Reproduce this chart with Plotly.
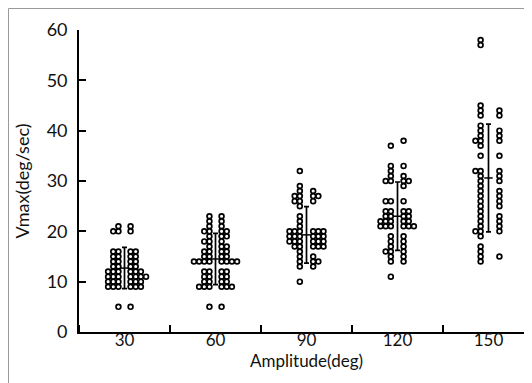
import plotly.graph_objects as go
from collections import Counter

# ---- data ----
amplitudes = [30, 60, 90, 120, 150]
tick_labels = ["30", "60", "90", "120", "150"]

left_30 = [21, 20, 20, 16, 16, 15, 15, 14, 14, 13, 13, 12, 12, 12, 11, 11, 11, 10, 10, 10, 9, 9, 9, 5]
right_30 = [21, 20, 16, 16, 15, 15, 14, 14, 13, 13, 12, 12, 12, 11, 11, 11, 11, 10, 10, 10, 9, 9, 9, 5]

left_60 = [23, 22, 21, 20, 20, 19, 18, 18, 17, 16, 16, 15, 15, 14, 14, 14, 14, 12, 12, 11, 11, 10, 10, 9, 9, 9, 5]
right_60 = [23, 22, 21, 20, 20, 19, 19, 18, 17, 17, 16, 16, 15, 15, 14, 14, 14, 14, 12, 12, 11, 11, 10, 10, 9, 9, 9, 5]

left_90 = [32, 29, 28, 27, 27, 26, 26, 25, 23, 22, 21, 20, 20, 20, 19, 19, 19, 18, 18, 18, 17, 17, 16, 15, 14, 13, 10]
right_90 = [28, 27, 27, 26, 20, 20, 20, 19, 19, 19, 18, 18, 18, 17, 17, 17, 15, 14, 14, 13]

left_120 = [37, 33, 32, 31, 30, 30, 26, 26, 24, 24, 23, 23, 22, 22, 22, 21, 21, 21, 19, 18, 17, 16, 16, 15, 14, 11]
right_120 = [38, 33, 31, 30, 30, 29, 26, 24, 24, 23, 23, 22, 22, 21, 21, 21, 19, 18, 17, 16, 15, 14]

left_150 = [58, 57, 45, 44, 43, 41, 40, 39, 38, 38, 37, 35, 32, 32, 31, 30, 29, 28, 27, 26, 25, 24, 23, 22, 21, 20, 20, 19, 17, 16, 15, 14]
right_150 = [44, 43, 40, 39, 38, 35, 32, 31, 30, 28, 27, 26, 25, 23, 22, 21, 20, 15]

means = [12.7, 14.5, 19.3, 23.0, 30.6]
sds = [4.1, 5.1, 5.6, 6.8, 10.7]

left_sets = [left_30, left_60, left_90, left_120, left_150]
right_sets = [right_30, right_60, right_90, right_120, right_150]

# ---- dot-plot layout (offsets in x-axis units) ----
step = 1.7
left_gap = [2.0, 2.0, 2.2, 2.2, 2.6]
right_gap = [2.0, 2.0, 2.2, 2.0, 3.6]

xs, ys = [], []
for i, amp in enumerate(amplitudes):
    for vals, sign, gap in ((left_sets[i], -1, left_gap[i]), (right_sets[i], 1, right_gap[i])):
        seen = Counter()
        for v in vals:
            k = seen[v]
            seen[v] += 1
            xs.append(amp + sign * (gap + k * step))
            ys.append(v)

fig = go.Figure()
fig.add_trace(go.Scatter(
    x=xs, y=ys, mode="markers",
    marker=dict(symbol="circle", size=4.8, color="white",
                line=dict(color="black", width=1.7)),
    hoverinfo="skip", showlegend=False,
))
fig.add_trace(go.Scatter(
    x=amplitudes, y=means, mode="markers",
    marker=dict(symbol="line-ew", size=6, color="black",
                line=dict(color="black", width=1.5)),
    error_y=dict(type="data", array=sds, visible=True,
                 color="black", thickness=1.7, width=2.5),
    hoverinfo="skip", showlegend=False,
))

W, H = 532, 383
ml, mr, mt, mb = 71, 6, 22, 59
pw, ph = W - ml - mr, H - mt - mb

font_family = "Lato, 'Open Sans', sans-serif"

fig.update_layout(
    width=W, height=H,
    margin=dict(l=ml, r=mr, t=mt, b=mb, pad=0),
    paper_bgcolor="white", plot_bgcolor="white",
    font=dict(family=font_family, size=17, color="#111"),
    xaxis=dict(
        range=[15, 165], tickmode="array", tickvals=amplitudes, ticktext=tick_labels,
        ticks="", showgrid=False, zeroline=False,
        showline=True, linecolor="black", linewidth=1.7,
        tickfont=dict(size=17), ticklabelstandoff=-8,
        minor=dict(tickmode="linear", tick0=15, dtick=30, ticks="inside",
                   ticklen=7, tickwidth=1.5, tickcolor="black", showgrid=False),
        title=dict(text="Amplitude(deg)", font=dict(size=17), standoff=0),
    ),
    yaxis=dict(
        range=[0, 60], tickmode="array", tickvals=[0, 10, 20, 30, 40, 50, 60],
        ticks="inside", ticklen=7, tickwidth=1.5, tickcolor="black",
        showgrid=False, zeroline=False,
        showline=True, linecolor="black", linewidth=1.7,
        tickfont=dict(size=18), ticklabelstandoff=6,
        title=dict(text="Vmax(deg/sec)", font=dict(size=18), standoff=12),
    ),
    shapes=[dict(
        type="rect", xref="paper", yref="paper",
        x0=(0.5 - ml) / pw, x1=(W - 0.5 - ml) / pw,
        y0=(ph + mt - (H - 0.5)) / ph, y1=(ph + mt - 0.5) / ph,
        line=dict(color="#9a9a9a", width=1), fillcolor="rgba(0,0,0,0)",
        layer="below",
    )],
)

fig.write_html("out.html")
